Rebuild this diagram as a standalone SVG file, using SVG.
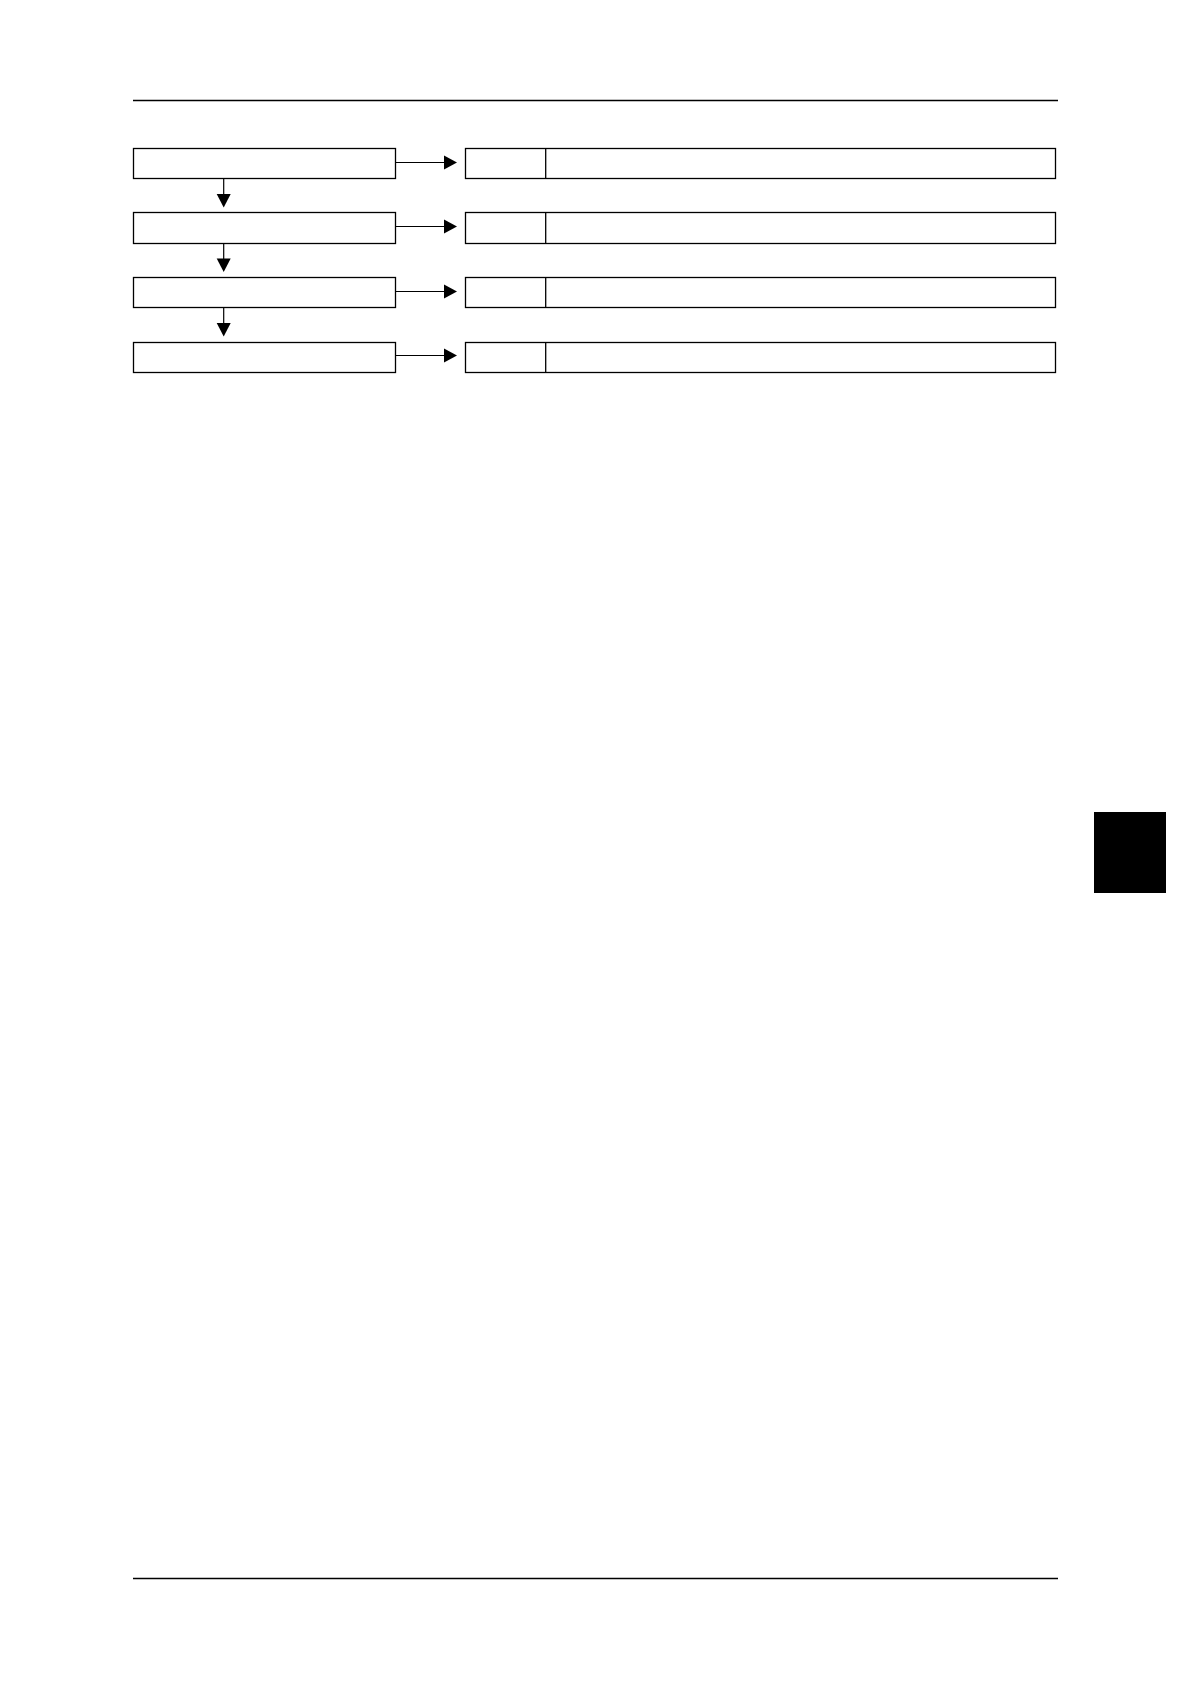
<svg xmlns="http://www.w3.org/2000/svg" width="1190" height="1684" viewBox="0 0 1190 1684">
<style>
.box{fill:#fff;stroke:#000;stroke-width:1.3}
.rule{stroke:#000;stroke-width:1.3}
.conn{stroke:#000;stroke-width:1.2;fill:none}
.head{fill:#000;stroke:none}
</style>
<rect width="1190" height="1684" fill="#fff"/>
<line class="rule" x1="133" y1="100.5" x2="1058" y2="100.5"/>
<line class="rule" x1="133" y1="1578.5" x2="1058" y2="1578.5"/>
<rect id="tab" x="1094" y="812" width="72" height="81" fill="#000"/>
<g id="step1"><rect class="box" x="133.5" y="148.5" width="262" height="30"/></g>
<g id="step2"><rect class="box" x="133.5" y="212.5" width="262" height="31"/></g>
<g id="step3"><rect class="box" x="133.5" y="277.5" width="262" height="30"/></g>
<g id="step4"><rect class="box" x="133.5" y="342.5" width="262" height="30"/></g>
<g id="result1"><rect class="box" x="465.5" y="148.5" width="590" height="30"/><line class="rule" x1="545.7" y1="148.5" x2="545.7" y2="178.5"/></g>
<g id="result2"><rect class="box" x="465.5" y="212.5" width="590" height="31"/><line class="rule" x1="545.7" y1="212.5" x2="545.7" y2="243.5"/></g>
<g id="result3"><rect class="box" x="465.5" y="277.5" width="590" height="30"/><line class="rule" x1="545.7" y1="277.5" x2="545.7" y2="307.5"/></g>
<g id="result4"><rect class="box" x="465.5" y="342.5" width="590" height="30"/><line class="rule" x1="545.7" y1="342.5" x2="545.7" y2="372.5"/></g>
<g id="connectors">
<line class="conn" x1="395.5" y1="162.5" x2="445" y2="162.5"/><polygon class="head" points="444,155.5 457,162.5 444,169.5"/>
<line class="conn" x1="395.5" y1="226.5" x2="445" y2="226.5"/><polygon class="head" points="444,219.5 457,226.5 444,233.5"/>
<line class="conn" x1="395.5" y1="291.5" x2="445" y2="291.5"/><polygon class="head" points="444,284.5 457,291.5 444,298.5"/>
<line class="conn" x1="395.5" y1="355.5" x2="445" y2="355.5"/><polygon class="head" points="444,348.5 457,355.5 444,362.5"/>
<line class="conn" x1="223.7" y1="178.5" x2="223.7" y2="195"/><polygon class="head" points="216.7,194 230.7,194 223.7,207.5"/>
<line class="conn" x1="223.7" y1="243.5" x2="223.7" y2="259"/><polygon class="head" points="216.7,258.5 230.7,258.5 223.7,272"/>
<line class="conn" x1="223.7" y1="307.5" x2="223.7" y2="324"/><polygon class="head" points="216.7,323 230.7,323 223.7,336.5"/>
</g>
</svg>
